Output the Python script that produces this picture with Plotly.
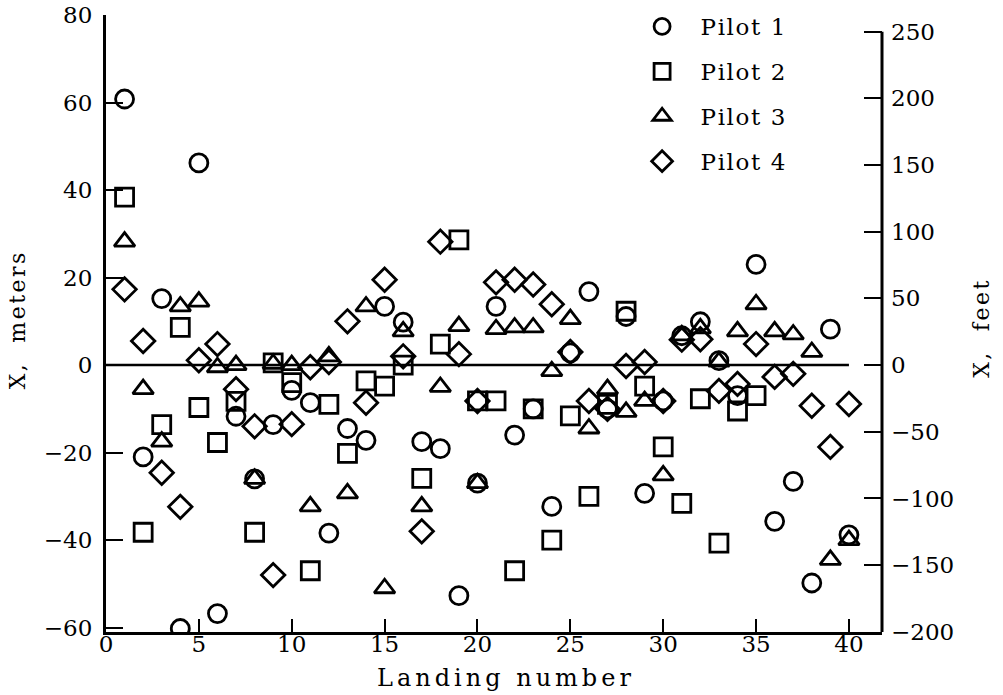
import plotly.graph_objects as go

landings = list(range(1, 41))
landings_p2 = list(range(1, 36))

pilot1 = [60.8, -21, 15.2, -60.2, 46.2, -56.8, -11.7, -26, -13.6, -5.8,
          -8.6, -38.4, -14.5, -17.2, 13.4, 9.8, -17.5, -19.1, -52.7, -27,
          13.4, -16, -10, -32.3, 2.8, 16.8, -10, 11.1, -29.3, -8.2,
          6.7, 9.9, 1, -7, 23, -35.7, -26.6, -49.8, 8.2, -38.8]
pilot2 = [38.4, -38.2, -13.6, 8.6, -9.7, -17.7, -8.3, -38.2, 0.5, -4,
          -47, -9, -20.2, -3.6, -4.8, 0, -25.9, 4.8, 28.6, -8.2,
          -8.2, -47, -10, -40, -11.6, -30, -9, 12.3, -4.8, -18.7,
          -31.6, -7.7, -40.7, -10.5, -7]
pilot3 = [28.2, -5.5, -17.5, 13.4, 14.5, -0.5, 0, -26, 0.3, 0,
          -32.3, 2, -29.3, 13.4, -51, 7.7, -32.3, -5, 8.9, -27,
          8.2, 8.6, 8.6, -1.4, 10.5, -14.5, -5.5, -10.7, -8.2, -25.2,
          6.8, 8.4, 0.8, 7.7, 13.9, 7.7, 7, 3, -44.5, -40]
pilot4 = [17.3, 5.5, -24.6, -32.4, 1.1, 4.8, -5.5, -14, -48, -13.5,
          -0.5, 0.7, 10, -8.6, 19.5, 2, -38, 28.2, 2.5, -8.2,
          18.9, 19.5, 18.4, 13.9, 3, -8.2, -10, -0.2, 0.7, -8.2,
          5.8, 5.9, -5.9, -4.3, 4.8, -2.7, -2, -9.3, -18.7, -8.9]

series = [
    ("Pilot 1", landings, pilot1, "circle-open"),
    ("Pilot 2", landings_p2, pilot2, "square-open"),
    ("Pilot 3", landings, pilot3, "triangle-up-open"),
    ("Pilot 4", landings, pilot4, "diamond-open"),
]

x_ticks = [0, 5, 10, 15, 20, 25, 30, 35, 40]
y_ticks_m = [-60, -40, -20, 0, 20, 40, 60, 80]
y_ticks_ft = [-200, -150, -100, -50, 0, 50, 100, 150, 200, 250]

FT_PER_M = 3.28084
Y_MIN, Y_MAX = -61, 80
X_MIN, X_MAX = 0, 41.78

FONT = "DejaVu Serif"
TICK_SIZE = 23

fig = go.Figure()
for name, xs, ys, sym in series:
    fig.add_trace(go.Scatter(
        x=xs, y=ys, mode="markers", name=name, legendgroup=name,
        marker=dict(symbol=sym, size=18, color="black",
                    line=dict(color="black", width=2.8)),
        showlegend=True,
    ))

# invisible trace to activate the feet axis
fig.add_trace(go.Scatter(x=[None], y=[None], yaxis="y2", showlegend=False))

fig.update_layout(
    width=1003, height=695,
    margin=dict(l=106, r=121, t=15, b=63, autoexpand=False),
    paper_bgcolor="white", plot_bgcolor="white",
    font=dict(family=FONT, size=TICK_SIZE, color="black"),
    showlegend=True,
    legend=dict(x=0.667, y=1 - 5 / 695, xanchor="left", yanchor="top",
                yref="container",
                bgcolor="rgba(0,0,0,0)", borderwidth=0,
                font=dict(family=FONT, size=23, color="black"),
                tracegroupgap=12, traceorder="grouped", itemsizing="trace",
                itemwidth=67),
    xaxis=dict(range=[X_MIN, X_MAX], tickvals=x_ticks, ticks="inside",
               ticklen=13, tickwidth=2, tickcolor="black",
               showline=True, linewidth=3, linecolor="black",
               showgrid=False, zeroline=False, mirror=False, automargin=False,
               ticklabelstandoff=-11,
               tickfont=dict(family=FONT, size=TICK_SIZE)),
    yaxis=dict(range=[Y_MIN, Y_MAX], tickvals=y_ticks_m, ticks="inside",
               ticklen=17, tickwidth=2, tickcolor="black",
               showline=True, linewidth=3, linecolor="black",
               showgrid=False, zeroline=False, automargin=False,
               ticklabelstandoff=6,
               tickfont=dict(family=FONT, size=TICK_SIZE)),
    yaxis2=dict(range=[Y_MIN * FT_PER_M, Y_MAX * FT_PER_M], tickvals=y_ticks_ft,
                overlaying="y", side="right", ticks="inside",
                ticklen=18, tickwidth=2, tickcolor="black",
                showline=False, showgrid=False, zeroline=False, automargin=False,
                ticklabelstandoff=8,
                tickfont=dict(family=FONT, size=TICK_SIZE)),
)

# zero reference line across the landings
fig.add_shape(type="line", xref="x", yref="y", x0=0, x1=40, y0=0, y1=0,
              line=dict(color="black", width=2.5), layer="below")
# right-hand (feet) axis line, from the bottom to the 250 ft tick
fig.add_shape(type="line", xref="paper", yref="y2", x0=1, x1=1,
              y0=Y_MIN * FT_PER_M, y1=250,
              line=dict(color="black", width=3))

fig.add_annotation(text="Landing number", xref="paper", yref="paper",
                   x=0.515, y=0, yshift=-46, showarrow=False,
                   xanchor="center", yanchor="middle",
                   font=dict(family=FONT, size=24))
fig.add_annotation(text="X,  meters", xref="paper", yref="paper",
                   x=0, xshift=-88, y=0.506, showarrow=False, textangle=-90,
                   xanchor="center", yanchor="middle",
                   font=dict(family=FONT, size=22))
fig.add_annotation(text="X,  feet", xref="paper", yref="paper",
                   x=1, xshift=100, y=0.493, showarrow=False, textangle=-90,
                   xanchor="center", yanchor="middle",
                   font=dict(family=FONT, size=22))

post = """
document.documentElement.style.margin = '0';
document.body.style.margin = '0';
document.body.style.padding = '0';
var gd = document.getElementById('{plot_id}');
function spaceText() {
  gd.querySelectorAll('.annotation-text').forEach(function (t) {
    t.style.letterSpacing = '2.5px';
  });
  gd.querySelectorAll('.annotation-text').forEach(function (t) {
    if (t.textContent.indexOf('Landing') === 0) { t.style.letterSpacing = '4px'; }
  });
  gd.querySelectorAll('.legendtext').forEach(function (t) {
    t.style.letterSpacing = '1.6px';
  });
  gd.querySelectorAll('.legend .scrollbox').forEach(function (s) {
    s.removeAttribute('clip-path');
  });
}
spaceText();
if (gd.on) { gd.on('plotly_afterplot', spaceText); }
"""

fig.write_html("out.html", post_script=post,
               config={"displayModeBar": False, "staticPlot": True})
